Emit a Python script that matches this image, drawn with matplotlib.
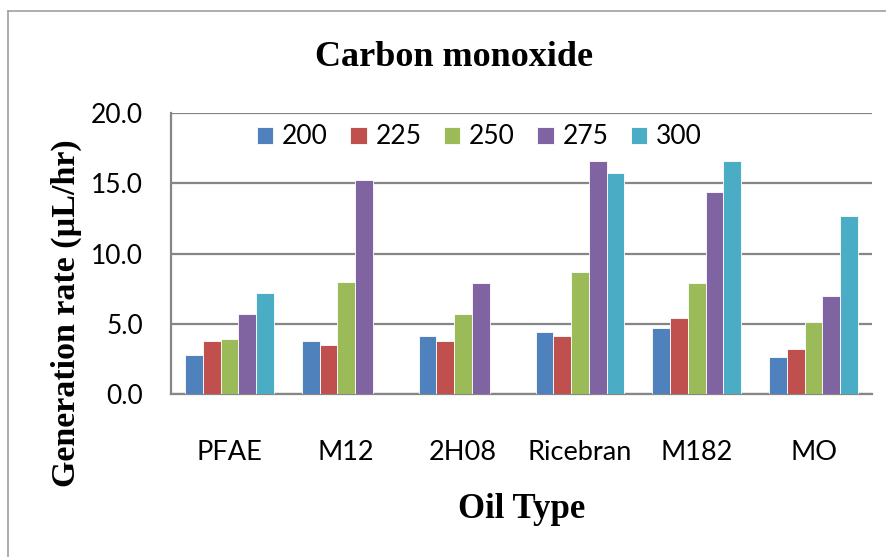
import numpy as np
import matplotlib
matplotlib.use("Agg")
import matplotlib.pyplot as plt
from matplotlib.lines import Line2D

# data
oils = ["PFAE", "M12", "2H08", "Ricebran", "M182", "MO"]
temps = ["200", "225", "250", "275", "300"]
t200 = [2.8, 3.8, 4.1, 4.4, 4.7, 2.6]
t225 = [3.8, 3.5, 3.8, 4.1, 5.4, 3.2]
t250 = [3.9, 8.0, 5.7, 8.7, 7.9, 5.1]
t275 = [5.7, 15.2, 7.9, 16.6, 14.4, 7.0]
t300 = [7.2, 0.0, 0.0, 15.7, 16.6, 12.7]

colors = ["#4F81BD", "#C0504D", "#9BBB59", "#8064A2", "#4BACC6"]
tick_font = ["Lato", "DejaVu Sans"]
serif_font = ["Liberation Serif", "DejaVu Serif"]

fig = plt.figure(figsize=(8.87, 5.57), dpi=100)
ax = fig.add_axes([171 / 887, 1 - 394 / 557, 701 / 887, 281 / 557])

x = np.arange(len(oils))
w = 0.152
series = [t200, t225, t250, t275, t300]
for i, vals in enumerate(series):
    ax.bar(x + (i - 2) * w, vals, width=w, color=colors[i], edgecolor="white",
           linewidth=0.6, label=temps[i], zorder=3)

ax.set_xlim(-0.5, len(oils) - 0.5)
ax.set_ylim(0, 20)
ax.set_yticks([0, 5, 10, 15, 20])
ax.set_yticklabels(["%.1f" % v for v in [0, 5, 10, 15, 20]], family=tick_font, fontsize=19)
ax.set_xticks(x)
ax.set_xticklabels(oils, family=tick_font, fontsize=19.5)
ax.tick_params(axis="y", length=0, pad=20)
ax.tick_params(axis="x", length=0, pad=33)

ax.grid(axis="y", color="#868686", linewidth=1.6, zorder=0)
for s in ["top", "right"]:
    ax.spines[s].set_visible(False)
for s in ["left", "bottom"]:
    ax.spines[s].set_color("#868686")
    ax.spines[s].set_linewidth(1.6)

ax.legend(loc="center left", bbox_to_anchor=(0.1227, 0.9146), ncol=5, frameon=False,
          prop={"family": tick_font, "size": 19}, handlelength=0.62, handleheight=0.62,
          handletextpad=0.33, columnspacing=0.85, borderaxespad=0, borderpad=0)

fig.text(454 / 887, 1 - 57 / 557, "Carbon monoxide", family=serif_font, fontweight="bold",
         fontsize=26, ha="center", va="center")
fig.text(66 / 887, 1 - 313 / 557, "Generation rate (\u00b5L/hr)", family=serif_font,
         fontweight="bold", fontsize=24.5, rotation=90, rotation_mode="anchor",
         ha="center", va="center")
fig.text(522 / 887, 1 - 510 / 557, "Oil Type", family=serif_font, fontweight="bold",
         fontsize=25, ha="center", va="center")

# outer chart frame (cropped at right and bottom)
fig.add_artist(Line2D([8.5 / 887, 8.5 / 887], [0, 1 - 11 / 557], transform=fig.transFigure,
                      color="#a0a0a0", linewidth=1.2))
fig.add_artist(Line2D([8.5 / 887, 1], [1 - 11 / 557, 1 - 11 / 557], transform=fig.transFigure,
                      color="#a0a0a0", linewidth=1.2))

fig.savefig("out.png", dpi=100)
